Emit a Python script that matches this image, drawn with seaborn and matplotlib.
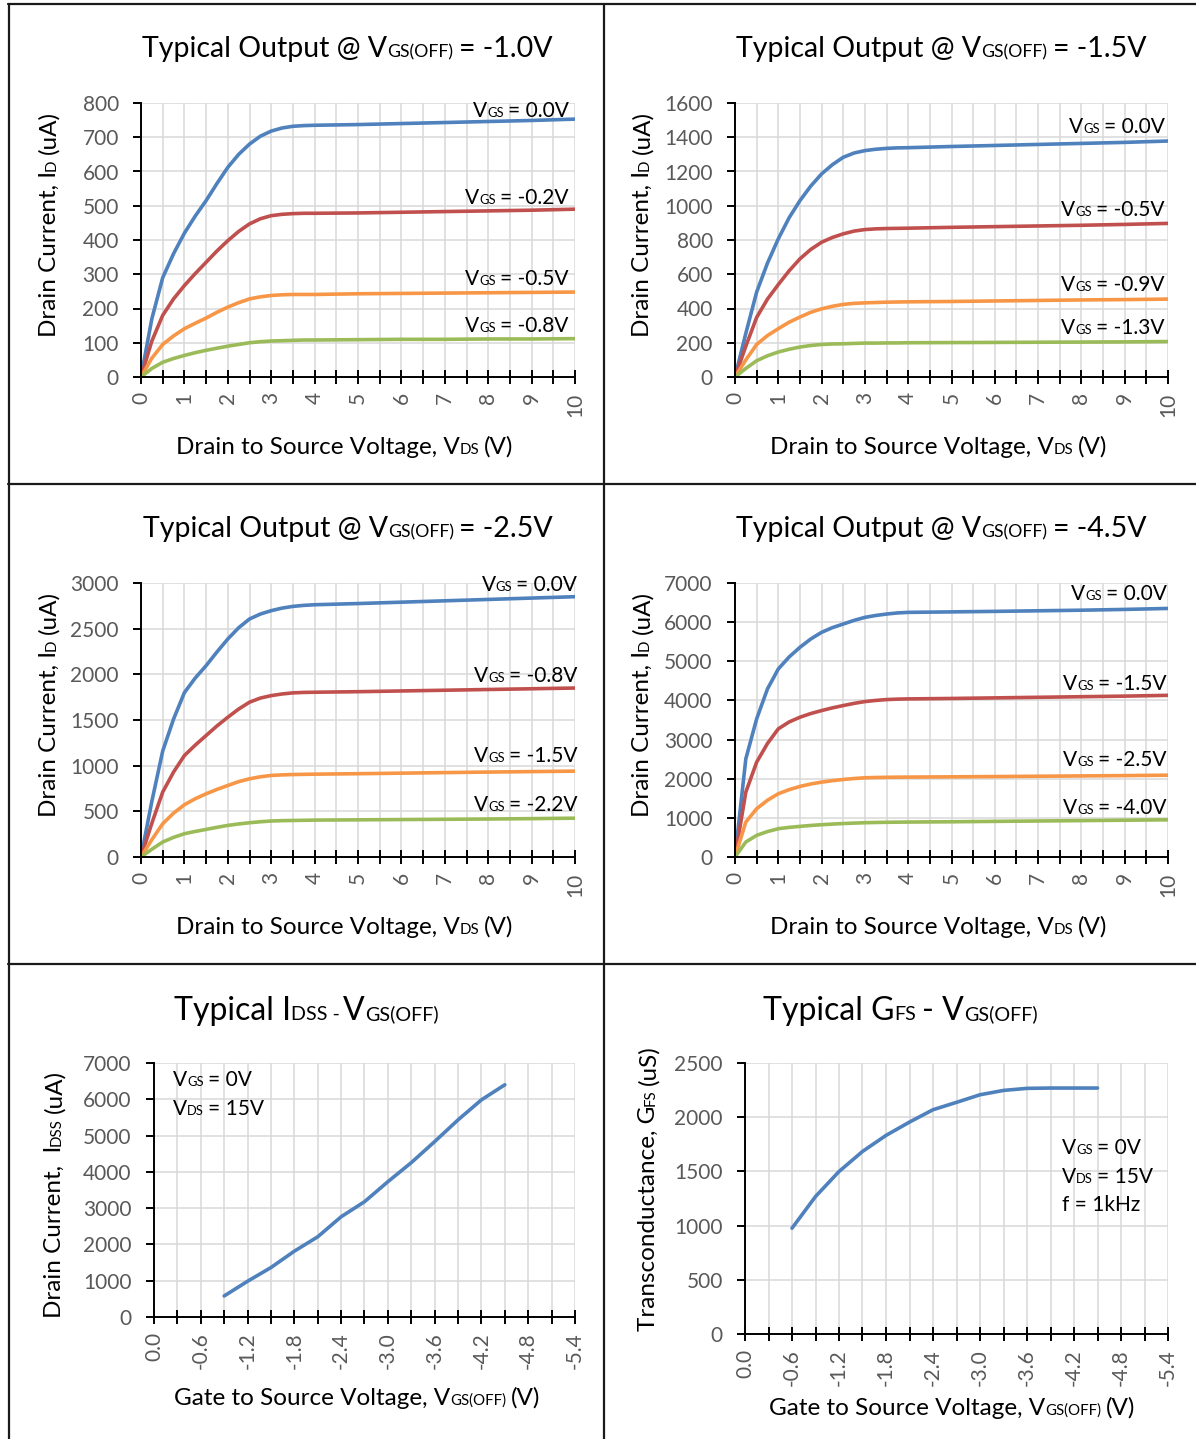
import numpy as np
import pandas as pd
import matplotlib
matplotlib.use('Agg')
import matplotlib.pyplot as plt
import seaborn as sns
from matplotlib.lines import Line2D
from matplotlib.ticker import MultipleLocator, FuncFormatter
from matplotlib.transforms import IdentityTransform

W, H = 1196, 1439

# drain-source voltage points used for all output curves
VDS = [0, 0.25, 0.5, 0.75, 1, 1.25, 1.5, 1.75, 2, 2.25, 2.5, 2.75, 3, 3.25, 3.5, 3.75, 4,
       5, 6, 7, 8, 9, 10]

# Vgs(off) = -1.0V
VGS_1V0 = ['0.0V', '-0.2V', '-0.5V', '-0.8V']
ID_1V0 = [
    [0, 170, 290, 360, 420, 470, 515, 565, 612, 650, 680, 703, 718, 727, 732, 734, 735,
     737, 740, 743, 746, 749, 753],
    [0, 105, 180, 228, 267, 302, 335, 368, 398, 425, 447, 462, 471, 475, 477, 478, 478,
     479, 481, 483, 485, 487, 490],
    [0, 55, 95, 120, 141, 157, 172, 189, 204, 217, 228, 234, 238, 240, 241, 241, 241,
     243, 244, 245, 246, 247, 248],
    [0, 25, 43, 54, 63, 71, 78, 84, 90, 95, 100, 103, 105, 106, 107, 108, 108,
     109, 110, 110, 111, 111, 112],
]
# Vgs(off) = -1.5V
VGS_1V5 = ['0.0V', '-0.5V', '-0.9V', '-1.3V']
ID_1V5 = [
    [0, 255, 496, 665, 807, 930, 1030, 1115, 1186, 1240, 1283, 1308, 1322, 1330, 1335, 1338, 1339,
     1346, 1352, 1358, 1364, 1370, 1378],
    [0, 180, 348, 455, 540, 620, 690, 745, 787, 815, 836, 852, 861, 865, 867, 868, 869,
     874, 878, 882, 886, 891, 897],
    [0, 100, 190, 242, 282, 320, 350, 378, 398, 413, 424, 430, 433, 435, 437, 438, 439,
     441, 444, 447, 450, 452, 455],
    [0, 50, 95, 124, 146, 162, 175, 184, 190, 193, 194, 196, 198, 198, 199, 199, 200,
     201, 202, 203, 204, 205, 207],
]
# Vgs(off) = -2.5V
VGS_2V5 = ['0.0V', '-0.8V', '-1.5V', '-2.2V']
ID_2V5 = [
    [0, 610, 1160, 1510, 1800, 1960, 2095, 2245, 2387, 2510, 2606, 2660, 2697, 2725, 2744, 2755, 2762,
     2775, 2790, 2805, 2820, 2835, 2850],
    [0, 370, 711, 930, 1111, 1225, 1330, 1435, 1530, 1620, 1695, 1740, 1767, 1785, 1797, 1802, 1804,
     1810, 1818, 1826, 1834, 1842, 1850],
    [0, 190, 364, 480, 572, 638, 692, 740, 783, 825, 856, 878, 893, 899, 903, 905, 907,
     912, 918, 924, 930, 935, 940],
    [0, 85, 164, 215, 255, 280, 302, 325, 346, 362, 375, 386, 394, 398, 400, 402, 404,
     407, 410, 413, 416, 420, 425],
]
# Vgs(off) = -4.5V
VGS_4V5 = ['0.0V', '-1.5V', '-2.5V', '-4.0V']
ID_4V5 = [
    [0, 2508, 3529, 4294, 4804, 5110, 5357, 5570, 5740, 5860, 5952, 6045, 6122, 6170, 6207, 6235, 6250,
     6262, 6275, 6290, 6305, 6325, 6350],
    [0, 1658, 2423, 2900, 3274, 3450, 3571, 3665, 3741, 3810, 3869, 3925, 3971, 4000, 4022, 4033, 4039,
     4050, 4065, 4080, 4095, 4110, 4130],
    [0, 893, 1233, 1450, 1616, 1720, 1803, 1865, 1913, 1950, 1981, 2005, 2024, 2031, 2036, 2039, 2041,
     2048, 2055, 2063, 2071, 2080, 2090],
    [0, 383, 553, 650, 723, 757, 782, 806, 825, 841, 855, 866, 876, 882, 887, 890, 893,
     900, 910, 920, 930, 940, 950],
]

# Idss and Gfs against Vgs(off)
VGSOFF_IDSS = [-0.9, -1.2, -1.5, -1.8, -2.1, -2.4, -2.7, -3.0, -3.3, -3.6, -3.9, -4.2, -4.5]
IDSS = [580, 985, 1363, 1814, 2210, 2762, 3177, 3729, 4254, 4834, 5433, 5985, 6400]
VGSOFF_GFS = [-0.6, -0.9, -1.2, -1.5, -1.8, -2.1, -2.4, -2.7, -3.0, -3.3, -3.6, -3.9, -4.2, -4.5]
GFS = [976, 1268, 1499, 1684, 1832, 1955, 2069, 2137, 2207, 2247, 2266, 2269, 2269, 2269]

COLORS = ['#4F81BD', '#C0504D', '#F79646', '#9BBB59']
GRID = '#D9D9D9'
TICK_GREY = '#595959'
SMALL = 0.62
GAP = 0.27

TITLE_SIZE = 20.5
LABEL_SIZE = 17.5
TICK_SIZE = 15
NOTE_SIZE = 15

sns.set_style('white')
plt.rcParams['font.family'] = ['Lato', 'DejaVu Sans']


def rich_text(fig, x, y, parts, size, rotation=0, ha='center', color='black'):
    """Writes text runs of two sizes on one baseline, x/y in display pixels."""
    renderer = fig.canvas.get_renderer()
    items = []
    for s, small in parts:
        fs = size * SMALL if small else size
        t = fig.text(0, 0, s.strip(), fontsize=fs, color=color, rotation=rotation,
                     rotation_mode='anchor', ha='left', va='baseline', transform=IdentityTransform())
        bb = t.get_window_extent(renderer)
        length = bb.width if rotation == 0 else bb.height
        lead = GAP * fs if s.startswith(' ') else 0
        trail = GAP * fs if s.endswith(' ') else 0
        items.append((t, lead, length, trail))
    total = sum(a + b + c for _, a, b, c in items)
    pos = {'left': 0, 'center': -total / 2, 'right': -total}[ha]
    for t, lead, length, trail in items:
        pos += lead
        t.set_position((x + pos, y) if rotation == 0 else (x, y + pos))
        pos += length + trail


def pixel_axes(fig, box):
    left, top, right, bottom = box
    return fig.add_axes([left / W, 1 - bottom / H, (right - left) / W, (bottom - top) / H])


def style_axes(ax, xmajor, xminor, ymax, ystep):
    ax.set_ylim(0, ymax)
    ax.xaxis.set_major_locator(MultipleLocator(xmajor))
    ax.xaxis.set_minor_locator(MultipleLocator(xminor))
    ax.yaxis.set_major_locator(MultipleLocator(ystep))
    ax.set_axisbelow(True)
    ax.grid(True, which='both', axis='x', color=GRID, lw=1.1)
    ax.grid(True, which='major', axis='y', color=GRID, lw=1.1)
    for side in ['top', 'right']:
        ax.spines[side].set_visible(False)
    for side in ['left', 'bottom']:
        ax.spines[side].set_color('black')
        ax.spines[side].set_linewidth(1.4)
    ax.tick_params(axis='y', which='major', direction='out', length=6, width=1.4, color='black',
                   pad=10, labelsize=TICK_SIZE, labelcolor=TICK_GREY, left=True)
    ax.tick_params(axis='x', which='both', direction='inout', length=10, width=1.4, color='black',
                   pad=6, labelsize=TICK_SIZE, labelcolor=TICK_GREY, labelrotation=90, bottom=True)
    ax.set_xlabel('')
    ax.set_ylabel('')


def text_layout(fig, title, title_xy, ylabel, ylabel_xy, xlabel, xlabel_xy, title_size):
    rich_text(fig, title_xy[0], H - title_xy[1], title, title_size)
    rich_text(fig, ylabel_xy[0], H - ylabel_xy[1], ylabel, LABEL_SIZE, rotation=90)
    rich_text(fig, xlabel_xy[0], H - xlabel_xy[1], xlabel, LABEL_SIZE)


def output_panel(fig, box, vgs_off, vgs, curves, ymax, ystep, label_x, label_y, title_xy, ylabel_xy, xlabel_xy):
    ax = pixel_axes(fig, box)
    df = pd.DataFrame({
        'vds': np.tile(VDS, len(vgs)),
        'id': np.concatenate(curves),
        'vgs': np.repeat(vgs, len(VDS)),
    })
    sns.lineplot(data=df, x='vds', y='id', hue='vgs', hue_order=vgs, palette=COLORS,
                 sort=False, estimator=None, legend=False, lw=2.6, ax=ax)
    ax.set_xlim(0, 10)
    style_axes(ax, 1, 0.5, ymax, ystep)

    for v, ly in zip(vgs, label_y):
        px, py = ax.transData.transform((label_x, ly))
        rich_text(fig, px, py, [('V', False), ('GS', True), (' = ' + v, False)], NOTE_SIZE, ha='right')

    text_layout(fig,
                [('Typical Output @ V', False), ('GS(OFF)', True), (' = ' + vgs_off, False)], title_xy,
                [('Drain Current, I', False), ('D', True), (' (uA)', False)], ylabel_xy,
                [('Drain to Source Voltage, V', False), ('DS', True), (' (V)', False)], xlabel_xy,
                TITLE_SIZE)
    return ax


def vgsoff_panel(fig, box, x, y, ymax, ystep):
    ax = pixel_axes(fig, box)
    sns.lineplot(x=x, y=y, color=COLORS[0], lw=2.6, sort=False, estimator=None, ax=ax)
    ax.set_xlim(0, -5.4)
    style_axes(ax, 0.6, 0.3, ymax, ystep)
    ax.xaxis.set_major_formatter(FuncFormatter(lambda v, p: f'{round(v, 1) + 0.0:.1f}'))
    return ax


fig = plt.figure(figsize=(W / 100, H / 100), dpi=100)
fig.patch.set_facecolor('white')

output_panel(fig, (141, 103, 575, 377), '-1.0V', VGS_1V0, ID_1V0, 800, 100,
             9.85, [759, 505, 269, 131], (347, 57), (55.5, 224), (345, 454))
output_panel(fig, (735, 103, 1168, 377), '-1.5V', VGS_1V5, ID_1V5, 1600, 200,
             9.92, [1425, 940, 502, 251], (941, 57), (649, 224), (939, 454))
output_panel(fig, (141, 583, 575, 857), '-2.5V', VGS_2V5, ID_2V5, 3000, 500,
             10.05, [2913, 1916, 1040, 504], (348, 537), (55.5, 704), (345, 934))
output_panel(fig, (735, 583, 1168, 857), '-4.5V', VGS_4V5, ID_4V5, 7000, 1000,
             9.97, [6566, 4267, 2325, 1099], (941, 537), (649, 704), (939, 934))

vgsoff_panel(fig, (154, 1063, 575, 1317), VGSOFF_IDSS, IDSS, 7000, 1000)
text_layout(fig,
            [('Typical I', False), ('DSS - ', True), ('V', False), ('GS(OFF)', True)], (306, 1020),
            [('Drain Current,  I', False), ('DSS', True), (' (uA)', False)], (61, 1194),
            [('Gate to Source Voltage, V', False), ('GS(OFF)', True), (' (V)', False)], (357, 1405),
            23)
rich_text(fig, 173, H - 1086, [('V', False), ('GS', True), (' = 0V', False)], NOTE_SIZE, ha='left')
rich_text(fig, 173, H - 1115, [('V', False), ('DS', True), (' = 15V', False)], NOTE_SIZE, ha='left')

vgsoff_panel(fig, (745, 1063, 1168, 1334), VGSOFF_GFS, GFS, 2500, 500)
text_layout(fig,
            [('Typical G', False), ('FS', True), (' - V', False), ('GS(OFF)', True)], (900, 1020),
            [('Transconductance, G', False), ('FS', True), (' (uS)', False)], (655, 1188),
            [('Gate to Source Voltage, V', False), ('GS(OFF)', True), (' (V)', False)], (952, 1415),
            23)
rich_text(fig, 1062, H - 1154, [('V', False), ('GS', True), (' = 0V', False)], NOTE_SIZE, ha='left')
rich_text(fig, 1062, H - 1183, [('V', False), ('DS', True), (' = 15V', False)], NOTE_SIZE, ha='left')
rich_text(fig, 1062, H - 1211, [('f = 1kHz', False)], NOTE_SIZE, ha='left')

# panel frame lines
for x0, y0, x1, y1 in [(8, 4, 1196, 4), (8, 484, 1196, 484), (8, 964, 1196, 964),
                       (9, 4, 9, 1439), (604, 4, 604, 1439)]:
    fig.add_artist(Line2D([x0 / W, x1 / W], [1 - y0 / H, 1 - y1 / H], transform=fig.transFigure,
                          color='#1a1a1a', lw=1.6))

fig.savefig('out.png', dpi=100, facecolor='white')
